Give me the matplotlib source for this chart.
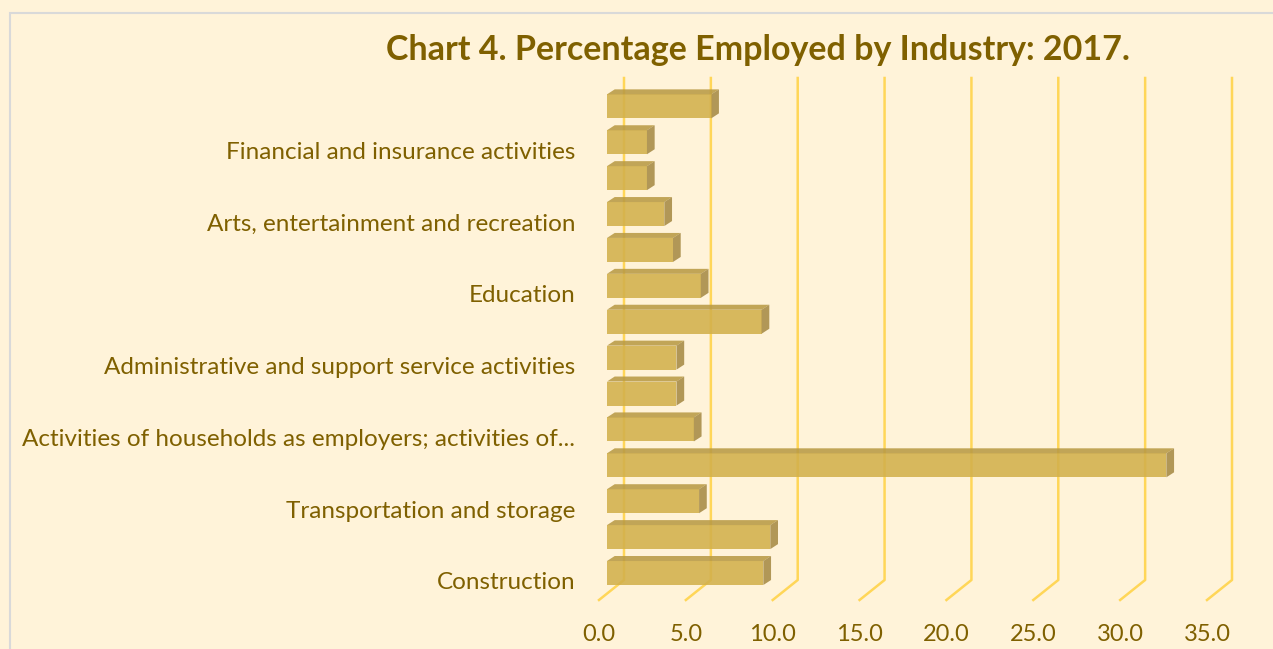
import matplotlib
matplotlib.use("Agg")
import matplotlib.pyplot as plt
from matplotlib.patches import Polygon, Rectangle
import numpy as np

# Data (bottom bar first)
industries = [
    "Construction",
    "",
    "Transportation and storage",
    "",
    "Activities of households as employers; activities of...",
    "",
    "Administrative and support service activities",
    "",
    "Education",
    "",
    "Arts, entertainment and recreation",
    "",
    "Financial and insurance activities",
    "",
]
percent = [9.0, 9.4, 5.3, 32.2, 5.0, 4.0, 4.0, 8.9, 5.4, 3.8, 3.3, 2.3, 2.3, 6.0]
x_ticks = [0, 5, 10, 15, 20, 25, 30, 35]

bg = "#FFF3D9"
text_col = "#7F6000"
grid_col = "#FFD34A"
face_col = "#D2B04C"
top_col = "#B99A45"
side_col = "#A68A45"

W, H = 1273, 649
fig = plt.figure(figsize=(W / 100, H / 100), dpi=100, facecolor=bg)
plt.rcParams["font.family"] = ["Lato", "DejaVu Sans"]

# axes placed so the front floor edge sits at the bottom of the axes
px_left, px_right = 599, 1207
px_floor, px_top = 600, 78
ax = fig.add_axes([px_left / W, (H - px_floor) / H,
                   (px_right - px_left) / W, (px_floor - px_top) / H])
ax.set_facecolor("none")
y = np.arange(len(percent))
ax.set_xlim(0, 35)
ax.set_ylim(-0.752, 13.79)
for s in ax.spines.values():
    s.set_visible(False)

# pseudo-3D projection (data units)
ppx = (px_right - px_left) / 35.0   # pixels per x unit
ppy = (px_floor - px_top) / (13.79 + 0.752)
wall_dx, wall_dy = 25 / ppx, 20 / ppy
bar_x0 = 8 / ppx
bar_dx, bar_dy = 7.7 / ppx, 5 / ppy
bar_h = 24 / ppy

# back wall gridlines + floor diagonals
for t in x_ticks:
    ax.plot([t, t + wall_dx, t + wall_dx],
            [-0.752, -0.752 + wall_dy, 13.79],
            color=grid_col, lw=1.8, alpha=0.9, zorder=1, clip_on=False)

# bars: front face, top and side
for yi, v in zip(y, percent):
    x0, x1 = bar_x0, bar_x0 + v
    y0, y1 = yi - bar_h / 2, yi + bar_h / 2
    ax.add_patch(Rectangle((x0, y0), v, bar_h, facecolor=face_col,
                           edgecolor="none", alpha=0.88, zorder=3))
    ax.add_patch(Polygon([(x0, y1), (x1, y1), (x1 + bar_dx, y1 + bar_dy),
                          (x0 + bar_dx, y1 + bar_dy)], closed=True,
                         facecolor=top_col, edgecolor="none", alpha=0.88, zorder=3))
    ax.add_patch(Polygon([(x1, y0), (x1 + bar_dx, y0 + bar_dy),
                          (x1 + bar_dx, y1 + bar_dy), (x1, y1)], closed=True,
                         facecolor=side_col, edgecolor="none", alpha=0.88, zorder=3))

# category labels (only every other one is shown)
shown = [i for i, lab in enumerate(industries) if lab]
ax.set_yticks([i - 0.22 for i in shown])
ax.set_yticklabels([industries[i] for i in shown], fontsize=17.5, color=text_col)
ax.tick_params(axis="y", length=0, pad=17)

ax.set_xticks(x_ticks)
ax.set_xticklabels([f"{t:.1f}" for t in x_ticks], fontsize=17, color=text_col)
ax.tick_params(axis="x", length=0, pad=17)

fig.text(758 / W, 1 - 50 / H, "Chart 4. Percentage Employed by Industry: 2017.",
         ha="center", va="center", fontsize=24.5, fontweight="bold", color=text_col)

# chart area border
fig.add_artist(Rectangle((10 / W, -0.05), 1.1, 1 - 13 / H + 0.05,
                         transform=fig.transFigure, facecolor="none",
                         edgecolor="#D9D9D9", lw=1.5))

fig.savefig("out.png", dpi=100, facecolor=bg)
